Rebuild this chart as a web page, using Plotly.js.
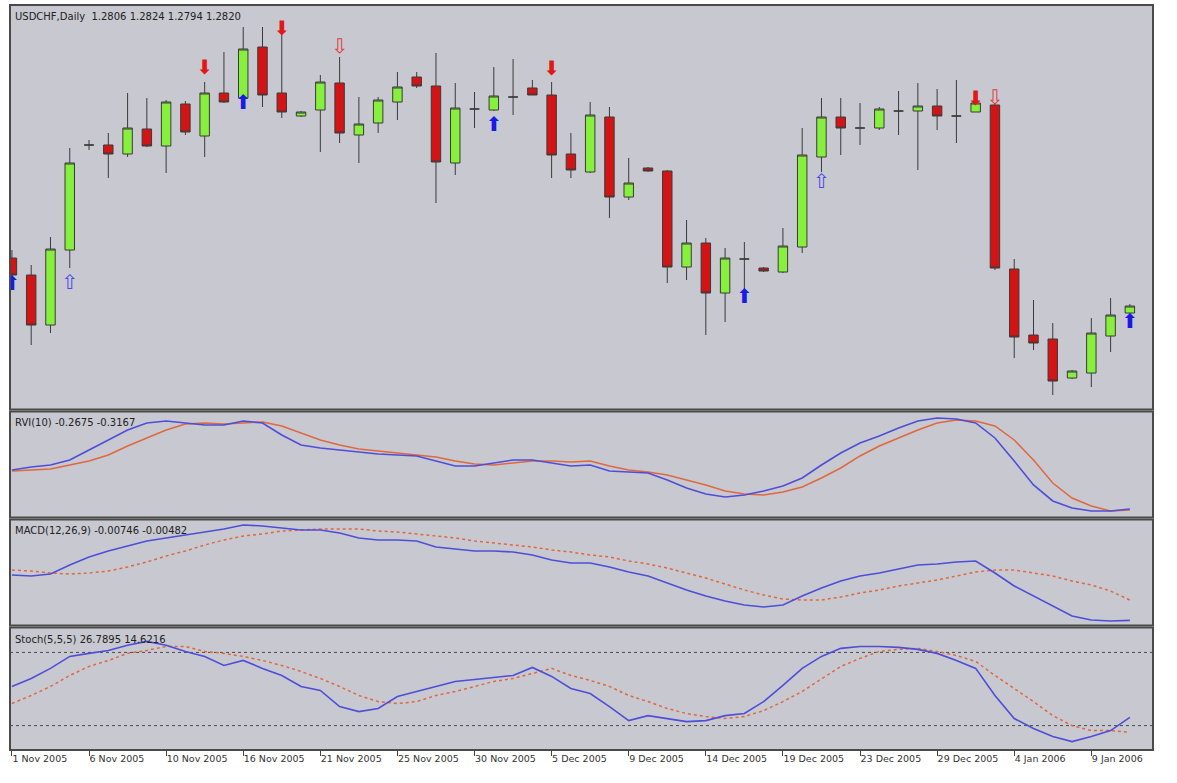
<!DOCTYPE html>
<html><head><meta charset="utf-8">
<script src="https://cdn.plot.ly/plotly-3.0.1.min.js"></script>
<style>html,body{margin:0;padding:0;background:#fff}#chart{width:1177px;height:783px}</style>
</head><body><div id="chart"></div>
<script>
const dates = ['2005-11-01','2005-11-02','2005-11-03','2005-11-04','2005-11-06','2005-11-07','2005-11-08','2005-11-09','2005-11-10','2005-11-11',
'2005-11-14','2005-11-15','2005-11-16','2005-11-17','2005-11-18','2005-11-20','2005-11-21','2005-11-22','2005-11-23','2005-11-24',
'2005-11-25','2005-11-27','2005-11-28','2005-11-29','2005-11-30','2005-12-01','2005-12-02','2005-12-04','2005-12-05','2005-12-06',
'2005-12-07','2005-12-08','2005-12-09','2005-12-11','2005-12-12','2005-12-13','2005-12-14','2005-12-15','2005-12-16','2005-12-18',
'2005-12-19','2005-12-20','2005-12-21','2005-12-22','2005-12-23','2005-12-26','2005-12-27','2005-12-28','2005-12-29','2005-12-30',
'2006-01-02','2006-01-03','2006-01-04','2006-01-05','2006-01-06','2006-01-08','2006-01-09','2006-01-10','2006-01-11'];

const open = [1.2916,1.2882,1.2782,1.2932,1.3142,1.3142,1.3124,1.3174,1.3140,1.3224,
1.3160,1.3246,1.3236,1.3338,1.3246,1.3200,1.3212,1.3266,1.3162,1.3186,
1.3228,1.3278,1.3260,1.3106,1.3214,1.3212,1.3238,1.3256,1.3242,1.3124,
1.3088,1.3198,1.3038,1.3096,1.3090,1.2898,1.2946,1.2846,1.2914,1.2896,
1.2888,1.2938,1.3118,1.3198,1.3176,1.3176,1.3210,1.3210,1.3220,1.3200,
1.3208,1.3222,1.2894,1.2762,1.2754,1.2676,1.2686,1.2760,1.2806];
const high = [1.2932,1.2902,1.2958,1.3136,1.3152,1.3166,1.3246,1.3236,1.3232,1.3230,
1.3268,1.3328,1.3378,1.3378,1.3362,1.3210,1.3282,1.3318,1.3238,1.3238,
1.3288,1.3288,1.3326,1.3266,1.3248,1.3298,1.3314,1.3272,1.3268,1.3166,
1.3228,1.3218,1.3116,1.3098,1.3092,1.2992,1.2956,1.2936,1.2948,1.2898,
1.2976,1.3176,1.3236,1.3236,1.3226,1.3218,1.3250,1.3266,1.3254,1.3272,
1.3238,1.3226,1.2914,1.2832,1.2786,1.2692,1.2796,1.2836,1.2824];
const low = [1.2876,1.2742,1.2766,1.2896,1.3132,1.3076,1.3118,1.3138,1.3086,1.3162,
1.3118,1.3226,1.3232,1.3218,1.3196,1.3198,1.3128,1.3146,1.3106,1.3166,
1.3192,1.3256,1.3026,1.3082,1.3176,1.3210,1.3202,1.3242,1.3076,1.3076,
1.3086,1.2996,1.3032,1.3088,1.2866,1.2872,1.2762,1.2788,1.2852,1.2888,
1.2886,1.2926,1.3088,1.3122,1.3142,1.3172,1.3162,1.3092,1.3172,1.3146,
1.3208,1.2892,1.2716,1.2732,1.2642,1.2674,1.2658,1.2728,1.2794];
const close = [1.2882,1.2782,1.2934,1.3106,1.3142,1.3124,1.3176,1.3140,1.3228,1.3168,
1.3246,1.3228,1.3334,1.3242,1.3208,1.3208,1.3268,1.3166,1.3184,1.3232,
1.3258,1.3260,1.3108,1.3216,1.3214,1.3240,1.3238,1.3242,1.3122,1.3092,
1.3202,1.3038,1.3066,1.3090,1.2898,1.2946,1.2846,1.2916,1.2914,1.2890,
1.2940,1.3122,1.3198,1.3176,1.3176,1.3214,1.3210,1.3220,1.3200,1.3200,
1.3226,1.2896,1.2758,1.2746,1.2670,1.2690,1.2766,1.2802,1.2820];

const rviMain = [-0.028,-0.007,0.007,0.042,0.112,0.182,0.252,0.301,0.315,0.301,
0.287,0.287,0.315,0.301,0.217,0.147,0.126,0.112,0.098,0.084,
0.077,0.070,0.035,0.000,0.000,0.021,0.042,0.042,0.021,0.000,
0.007,-0.035,-0.042,-0.049,-0.098,-0.154,-0.196,-0.217,-0.203,-0.175,
-0.140,-0.084,0.007,0.091,0.161,0.210,0.266,0.315,0.336,0.329,
0.301,0.196,0.035,-0.133,-0.245,-0.294,-0.315,-0.315,-0.301];
const rviSignal = [-0.035,-0.028,-0.021,0.007,0.035,0.077,0.140,0.196,0.252,0.294,
0.301,0.294,0.301,0.308,0.280,0.231,0.182,0.147,0.119,0.105,
0.091,0.077,0.063,0.035,0.014,0.007,0.021,0.035,0.035,0.028,
0.035,0.000,-0.028,-0.042,-0.063,-0.098,-0.133,-0.175,-0.196,-0.203,
-0.182,-0.147,-0.084,-0.014,0.070,0.140,0.196,0.252,0.301,0.322,
0.315,0.280,0.182,0.042,-0.119,-0.224,-0.280,-0.315,-0.308];

const macdMain = [-0.00156,-0.00169,-0.00143,-0.00026,0.00078,0.00156,0.00221,0.00286,0.00325,0.00364,
0.00403,0.00442,0.00494,0.00481,0.00455,0.00429,0.00429,0.00390,0.00325,0.00299,
0.00299,0.00286,0.00208,0.00182,0.00156,0.00156,0.00143,0.00104,0.00039,0.00000,
0.00000,-0.00052,-0.00117,-0.00169,-0.00260,-0.00351,-0.00429,-0.00494,-0.00546,-0.00572,
-0.00546,-0.00429,-0.00325,-0.00234,-0.00169,-0.00130,-0.00078,-0.00026,-0.00013,0.00013,
0.00026,-0.00130,-0.00299,-0.00429,-0.00559,-0.00689,-0.00741,-0.00754,-0.00746];
const macdSignal = [-0.00091,-0.00104,-0.00130,-0.00143,-0.00130,-0.00104,-0.00052,0.00013,0.00091,0.00156,
0.00234,0.00299,0.00351,0.00377,0.00416,0.00429,0.00442,0.00442,0.00442,0.00416,
0.00403,0.00377,0.00351,0.00325,0.00286,0.00260,0.00234,0.00208,0.00169,0.00143,
0.00104,0.00078,0.00026,-0.00013,-0.00065,-0.00130,-0.00195,-0.00273,-0.00351,-0.00416,
-0.00468,-0.00481,-0.00481,-0.00442,-0.00390,-0.00351,-0.00299,-0.00260,-0.00221,-0.00169,
-0.00117,-0.00091,-0.00091,-0.00130,-0.00169,-0.00234,-0.00286,-0.00364,-0.00482];

const stochMain = [52.1,58.6,66.9,76.7,79.2,81.6,85.8,89.0,85.8,80.8,
76.7,69.3,73.4,66.9,61.1,52.1,48.8,35.6,31.5,34.0,
43.8,48.0,52.1,56.2,57.8,59.5,61.1,67.7,60.3,50.4,
46.3,35.6,24.1,28.2,25.8,23.3,24.1,28.2,29.9,39.7,
52.9,66.9,76.7,83.3,84.9,84.9,84.1,82.5,79.2,73.4,
66.9,44.7,25.8,17.6,11.0,6.9,11.0,15.9,26.79];
const stochSignal = [38.1,44.7,52.1,61.1,68.5,73.4,79.2,81.6,84.9,84.9,
80.8,79.2,76.7,73.4,69.3,64.4,58.6,52.1,44.7,39.7,
38.1,39.7,44.7,48.0,52.1,56.2,58.6,62.7,66.9,61.1,
57.0,52.1,44.7,39.7,34.0,29.9,27.4,25.8,27.4,32.3,
39.7,48.0,58.6,68.5,75.1,80.8,82.5,83.3,80.8,77.5,
72.6,61.1,50.4,39.7,28.2,20.0,15.9,15.9,14.62];
const stochLevels = [80, 20];

const tickDates = ['2005-11-01','2005-11-06','2005-11-10','2005-11-16','2005-11-21','2005-11-25','2005-11-30','2005-12-05','2005-12-09','2005-12-14','2005-12-19','2005-12-23','2005-12-29','2006-01-04','2006-01-09'];
const tickLabels = ['1 Nov 2005','6 Nov 2005','10 Nov 2005','16 Nov 2005','21 Nov 2005','25 Nov 2005','30 Nov 2005','5 Dec 2005','9 Dec 2005','14 Dec 2005','19 Dec 2005','23 Dec 2005','29 Dec 2005','4 Jan 2006','9 Jan 2006'];

const sellIdx = [10,14,28,50];      const sellPrice = [1.3294,1.3372,1.3292,1.3232];
const sellWeakIdx = [17,51];        const sellWeakPrice = [1.3336,1.3234];
const buyIdx = [0,12,25,38,58];     const buyPrice = [1.2862,1.3224,1.3180,1.2836,1.2786];
const buyWeakIdx = [3,42];          const buyWeakPrice = [1.2864,1.3066];

const paneLabels = ['USDCHF,Daily  1.2806 1.2824 1.2794 1.2820','RVI(10) -0.2675 -0.3167','MACD(12,26,9) -0.00746 -0.00482','Stoch(5,5,5) 26.7895 14.6216'];

const BLUE = '#4e4ed8', RED = '#e0683f';
const domains = [[0.4570,1],[0.3121,0.4544],[0.1671,0.3094],[0,0.1644]];

function arrows(idx, price, glyph, color, size){
  return {type:'scatter', mode:'text', x: idx.map(i=>dates[i]), y: price, text: idx.map(()=>glyph),
    textposition:'middle center', textfont:{family:'DejaVu Sans', size:size, color:color},
    xaxis:'x', yaxis:'y', hoverinfo:'skip', cliponaxis:true};
}

const traces = [
  {type:'candlestick', x:dates, open:open, high:high, low:low, close:close, xaxis:'x', yaxis:'y',
   increasing:{line:{color:'#3a3a3a', width:1}, fillcolor:'#86f03c'},
   decreasing:{line:{color:'#3a3a3a', width:1}, fillcolor:'#d41414'},
   whiskerwidth:0, hoverinfo:'skip'},
  arrows(sellIdx, sellPrice, '⬇', '#e01818', 20),
  arrows(sellWeakIdx, sellWeakPrice, '⇩', '#e04040', 20),
  arrows(buyIdx, buyPrice, '⬆', '#1a1ae6', 20),
  arrows(buyWeakIdx, buyWeakPrice, '⇧', '#4a4ae6', 20),
  {type:'scatter', mode:'lines', x:dates, y:rviSignal, xaxis:'x', yaxis:'y2', line:{color:RED, width:1.5}, hoverinfo:'skip'},
  {type:'scatter', mode:'lines', x:dates, y:rviMain, xaxis:'x', yaxis:'y2', line:{color:BLUE, width:1.6}, hoverinfo:'skip'},
  {type:'scatter', mode:'lines', x:dates, y:macdSignal, xaxis:'x', yaxis:'y3', line:{color:RED, width:1.5, dash:'dot'}, hoverinfo:'skip'},
  {type:'scatter', mode:'lines', x:dates, y:macdMain, xaxis:'x', yaxis:'y3', line:{color:BLUE, width:1.6}, hoverinfo:'skip'},
  {type:'scatter', mode:'lines', x:dates, y:stochSignal, xaxis:'x', yaxis:'y4', line:{color:RED, width:1.5, dash:'dot'}, hoverinfo:'skip'},
  {type:'scatter', mode:'lines', x:dates, y:stochMain, xaxis:'x', yaxis:'y4', line:{color:BLUE, width:1.6}, hoverinfo:'skip'}
];

const yBase = {showticklabels:false, showgrid:false, zeroline:false, ticks:'', showline:false, fixedrange:true, anchor:'x'};

const shapes = domains.map(d => ({type:'rect', xref:'paper', yref:'paper', x0:0, x1:1, y0:d[0], y1:d[1],
  line:{color:'#4a4a4a', width:2}, fillcolor:'rgba(0,0,0,0)', layer:'above'}));
stochLevels.forEach(v => shapes.push({type:'line', xref:'paper', yref:'y4', x0:0, x1:1, y0:v, y1:v,
  line:{color:'#4a4a4a', width:1, dash:'dot'}, layer:'below'}));

const annotations = paneLabels.map((t,k) => ({xref:'paper', yref:'paper', x:0, y:domains[k][1], xanchor:'left', yanchor:'top',
  xshift:3, yshift:-4, text:t, showarrow:false, font:{family:'DejaVu Sans', size:10, color:'#222'}}));

const layout = {
  width:1177, height:783,
  margin:{l:10, r:24, t:5, b:33},
  paper_bgcolor:'#ffffff', plot_bgcolor:'#c8c8d0',
  showlegend:false, boxgap:0.3, hovermode:false,
  font:{family:'DejaVu Sans', size:9, color:'#222'},
  xaxis:{type:'category', range:[-0.1, 59.2], anchor:'y4', tickvals:tickDates, ticktext:tickLabels,
    ticks:'outside', ticklen:5, tickcolor:'#444', ticklabelposition:'outside right',
    showgrid:false, zeroline:false, showline:false, rangeslider:{visible:false}, fixedrange:true,
    tickfont:{family:'DejaVu Sans', size:9.5, color:'#333'}},
  yaxis:Object.assign({}, yBase, {domain:domains[0], range:[1.2613,1.3422]}),
  yaxis2:Object.assign({}, yBase, {domain:domains[1], range:[-0.3605,0.3815]}),
  yaxis3:Object.assign({}, yBase, {domain:domains[2], range:[-0.008125,0.005655]}),
  yaxis4:Object.assign({}, yBase, {domain:domains[3], range:[0,100.4]}),
  shapes:shapes, annotations:annotations
};

Plotly.newPlot('chart', traces, layout, {staticPlot:true, displayModeBar:false});
</script></body></html>
